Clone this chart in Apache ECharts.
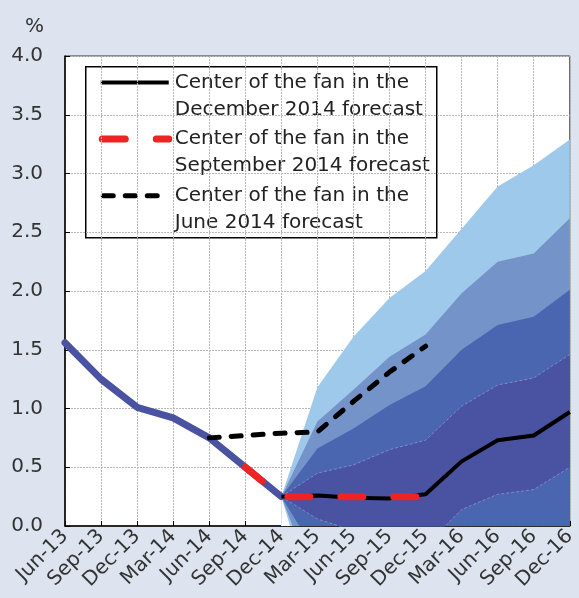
<!DOCTYPE html>
<html>
<head>
<meta charset="utf-8">
<script src="https://cdn.jsdelivr.net/npm/echarts@6/dist/echarts.min.js"></script>
<style>
  html, body { margin: 0; padding: 0; background: #dde4f0; }
  #chart { width: 579px; height: 598px; }
</style>
</head>
<body>
<div id="chart"></div>
<script>
// ---- data ----
const categories = ['Jun-13','Sep-13','Dec-13','Mar-14','Jun-14','Sep-14','Dec-14','Mar-15','Jun-15','Sep-15','Dec-15','Mar-16','Jun-16','Sep-16','Dec-16'];
const yTickLabels = ['0.0','0.5','1.0','1.5','2.0','2.5','3.0','3.5','4.0'];

const history   = [1.56, 1.25, 1.01, 0.92, 0.75, 0.50, 0.25, '-', '-', '-', '-', '-', '-', '-', '-'];
const centerDec = ['-', '-', '-', '-', '-', '-', 0.25, 0.26, 0.24, 0.235, 0.27, 0.55, 0.73, 0.77, 0.97];
const centerSep = ['-', '-', '-', '-', '-', 0.50, 0.25, 0.25, 0.25, 0.25, 0.25, '-', '-', '-', '-'];
const centerJun = ['-', '-', '-', '-', 0.75, 0.77, 0.79, 0.80, 1.06, 1.31, 1.53, '-', '-', '-', '-'];

// fan band edges (Dec-14 .. Dec-16)
const upper90 = ['-', '-', '-', '-', '-', '-', 0.25, 1.18, 1.61, 1.94, 2.17, 2.53, 2.89, 3.07, 3.29];
const upper70 = ['-', '-', '-', '-', '-', '-', 0.25, 0.89, 1.16, 1.44, 1.63, 1.98, 2.25, 2.32, 2.62];
const upper50 = ['-', '-', '-', '-', '-', '-', 0.25, 0.66, 0.83, 1.03, 1.19, 1.50, 1.71, 1.78, 2.01];
const upper30 = ['-', '-', '-', '-', '-', '-', 0.25, 0.45, 0.52, 0.65, 0.73, 1.02, 1.20, 1.26, 1.46];
const lower30 = ['-', '-', '-', '-', '-', '-', 0.25, 0.06, -0.04, -0.18, -0.17, 0.14, 0.27, 0.31, 0.50];
const lower50 = ['-', '-', '-', '-', '-', '-', 0.25, -0.25, -0.40, -0.60, -0.70, -0.45, -0.30, -0.30, -0.10];
const lower70 = ['-', '-', '-', '-', '-', '-', 0.25, -0.55, -0.80, -1.00, -1.10, -0.90, -0.80, -0.80, -0.70];
const lower90 = ['-', '-', '-', '-', '-', '-', 0.25, -0.80, -1.20, -1.50, -1.60, -1.40, -1.40, -1.50, -1.40];

const legendNames = ['Center of the fan in the\nDecember 2014 forecast',
                     'Center of the fan in the\nSeptember 2014 forecast',
                     'Center of the fan in the\nJune 2014 forecast'];

// ---- styles ----
const C_LIGHT = '#9fc9ea', C_MID = '#7393c9', C_DEEP = '#4a66b0', C_CORE = '#4a52a2';
const FONT = 'DejaVu Sans';

function band(data, color, line) {
  return {
    type: 'line', data: data, symbol: 'none', silent: true, clip: true,
    lineStyle: line || { width: 0, opacity: 0 },
    areaStyle: { color: color, opacity: 1, origin: 'start' },
    emphasis: { disabled: true }
  };
}
const faintLine = { width: 0.8, color: '#8a96d2', type: [3, 2] };

const chart = echarts.init(document.getElementById('chart'), null, { renderer: 'canvas' });
chart.setOption({
  backgroundColor: '#dde4f0',
  animation: false,
  textStyle: { fontFamily: FONT },
  grid: { left: 65, right: 4, top: 56, bottom: 72, show: true, backgroundColor: '#ffffff', borderColor: '#333', borderWidth: 1 },
  xAxis: {
    type: 'category', data: categories, boundaryGap: false,
    axisLine: { show: true, lineStyle: { color: '#000', width: 1.5 } },
    axisTick: { show: true, inside: true, length: 5, interval: 0, lineStyle: { color: '#000' } },
    axisLabel: { rotate: 45, fontSize: 20, color: '#333', margin: 7, interval: 0, fontFamily: FONT },
    splitLine: { show: true, interval: 0, lineStyle: { color: '#b8b8b8', type: [2, 1], width: 1 } }
  },
  yAxis: {
    type: 'value', min: 0, max: 4, interval: 0.5,
    axisLine: { show: true, lineStyle: { color: '#000', width: 1.5 } },
    axisTick: { show: true, inside: true, length: 5, lineStyle: { color: '#000' } },
    axisLabel: { fontSize: 20, color: '#333', margin: 22, fontFamily: FONT,
                 formatter: (v) => yTickLabels[Math.round(v / 0.5)] },
    splitLine: { show: true, lineStyle: { color: '#b8b8b8', type: [2, 1], width: 1 } }
  },
  series: [
    band(upper90, C_LIGHT),
    band(upper70, C_MID),
    band(upper50, C_DEEP),
    band(upper30, C_CORE, faintLine),
    band(lower30, C_DEEP, faintLine),
    band(lower50, C_MID),
    band(lower70, C_LIGHT),
    band(lower90, '#ffffff'),
    { type: 'line', data: history, symbol: 'none', silent: true,
      lineStyle: { color: C_CORE, width: 7, cap: 'round', join: 'round' } },
    { type: 'line', name: legendNames[0], data: centerDec, symbol: 'none', silent: true,
      lineStyle: { color: '#000', width: 4, join: 'round' } },
    { type: 'line', name: legendNames[1], data: centerSep, symbol: 'none', silent: true,
      lineStyle: { color: '#ee2424', width: 7, type: [22, 31], cap: 'round', join: 'round' } },
    { type: 'line', name: legendNames[2], data: centerJun, symbol: 'none', silent: true,
      lineStyle: { color: '#000', width: 5, type: [10, 12], cap: 'round', join: 'round' } }
  ],
  graphic: [
    { type: 'text', left: 25, top: 17, style: { text: '%', fontSize: 20, fill: '#333', fontFamily: FONT } },
    { type: 'group', left: 85, top: 66, children: [
      { type: 'rect', shape: { x: 0, y: 0, width: 351, height: 171 },
        style: { fill: '#fff', stroke: '#000', lineWidth: 1.5 } },
      { type: 'line', shape: { x1: 15, y1: 15.7, x2: 83, y2: 15.7 },
        style: { stroke: '#000', lineWidth: 4 } },
      { type: 'line', shape: { x1: 16.5, y1: 72.3, x2: 83, y2: 72.3 },
        style: { stroke: '#ee2424', lineWidth: 7, lineDash: [23, 31], lineCap: 'round' } },
      { type: 'line', shape: { x1: 17.5, y1: 129, x2: 80, y2: 129 },
        style: { stroke: '#000', lineWidth: 5, lineDash: [10, 12], lineCap: 'round' } },
      { type: 'text', x: 89, y: 2.5, style: { text: legendNames[0], fontSize: 20, lineHeight: 26.7, fill: '#222', fontFamily: FONT } },
      { type: 'text', x: 89, y: 59, style: { text: legendNames[1], fontSize: 20, lineHeight: 26.7, fill: '#222', fontFamily: FONT } },
      { type: 'text', x: 89, y: 115.7, style: { text: legendNames[2], fontSize: 20, lineHeight: 26.7, fill: '#222', fontFamily: FONT } }
    ] }
  ]
});
</script>
</body>
</html>
